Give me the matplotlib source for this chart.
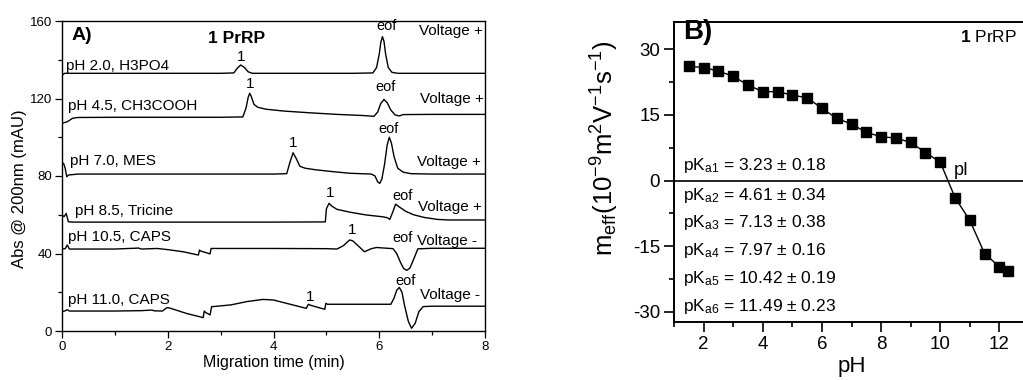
import matplotlib
matplotlib.use("Agg")
import matplotlib.pyplot as plt
from matplotlib.ticker import MultipleLocator

plt.rcParams['font.family'] = ['Liberation Sans', 'DejaVu Sans']
plt.rcParams['mathtext.fontset'] = 'custom'
plt.rcParams['mathtext.rm'] = 'Liberation Sans'
plt.rcParams['mathtext.it'] = 'Liberation Sans'
plt.rcParams['mathtext.bf'] = 'Liberation Sans:bold'
plt.rcParams['axes.unicode_minus'] = False

# ---------------- Panel A: electropherograms (time in min, absorbance in mAU) ----------------
t_ph20 = [0, 0.05, 0.3, 1.0, 2.0, 3.0, 3.25, 3.31, 3.38, 3.45, 3.52, 3.6, 4.5, 5.5,
          5.88, 5.95, 6.0, 6.03, 6.06, 6.09, 6.12, 6.17, 6.24, 6.35, 7.0, 8.0]
a_ph20 = [132, 133, 133, 133, 133, 133, 133.2, 135.5, 137.3, 136, 133.8, 133, 133, 133,
          133.2, 136, 143, 149, 151.9, 149.5, 143, 136, 133.5, 133, 133, 133]

t_ph45 = [0, 0.1, 0.2, 0.3, 1.0, 2.0, 3.0, 3.42, 3.48, 3.52, 3.55, 3.58, 3.63, 3.7,
          3.85, 4.2, 4.7, 5.2, 5.7, 5.9, 5.97, 6.03, 6.09, 6.15, 6.22, 6.3, 6.38, 6.45, 7.0, 8.0]
a_ph45 = [107.2, 108, 109.8, 110.2, 110.3, 110.3, 110.3, 110.5, 115, 120.5, 122.7, 121, 117, 115.5,
          114.5, 113.5, 112.6, 111.8, 111.2, 110.8, 113, 117.5, 119.5, 117.8, 114, 111.5, 111, 111.7, 111.8, 111.8]

t_ph70 = [0, 0.03, 0.06, 0.09, 0.12, 0.3, 1.0, 2.0, 3.0, 4.0, 4.25, 4.31, 4.37, 4.43, 4.5,
          4.6, 4.8, 5.1, 5.45, 5.85, 5.92, 5.97, 6.01, 6.05, 6.1, 6.15, 6.19, 6.23, 6.28,
          6.35, 6.45, 6.6, 7.0, 8.0]
a_ph70 = [86.5, 86.5, 84, 79.6, 80.5, 81, 81, 81, 81, 81, 81.2, 87, 92, 89, 85,
          84, 83.2, 82.3, 81.4, 81, 80, 77, 76.2, 78.5, 86, 96, 100, 97, 90,
          84, 82, 81.2, 81, 81]

t_ph85 = [0, 0.04, 0.08, 0.12, 0.2, 1.0, 2.0, 3.0, 4.0, 4.98, 5.0, 5.05, 5.1, 5.2, 5.45,
          5.75, 6.05, 6.15, 6.2, 6.25, 6.31, 6.38, 6.5, 6.65, 6.85, 7.1, 7.3, 8.0]
a_ph85 = [59.9, 59, 60.7, 56.4, 56.2, 56.2, 56.2, 56.2, 56.2, 56.3, 63, 65.9, 64.5, 62.8, 61.3,
          59.9, 59.0, 58.5, 57.6, 61, 65.5, 64, 61.8, 60, 58.6, 57.6, 57.3, 57.3]

t_ph105 = [0, 0.06, 0.1, 0.14, 0.3, 1.0, 1.45, 1.5, 1.8, 2.0, 2.29, 2.58, 2.6, 2.62, 2.8,
           2.82, 2.85, 3.2, 4.0, 5.0, 5.2, 5.32, 5.44, 5.5, 5.6, 5.72, 5.85, 5.95, 6.1,
           6.26, 6.33, 6.4, 6.46, 6.52, 6.58, 6.65, 6.73, 7.0, 8.0]
a_ph105 = [42.3, 42.5, 44.4, 42.3, 42.3, 42.3, 42.8, 42.3, 42.6, 42, 40.9, 39.2, 41.8, 41.3, 39.8,
           42.6, 42.6, 42.6, 42.6, 42.5, 42.3, 44, 47, 46.5, 44, 40.9, 42.5, 43.1, 42.8,
           42.5, 40, 35.5, 32.3, 31.3, 32.5, 37, 42.4, 42.7, 42.7]

t_ph110 = [0, 0.06, 0.1, 0.14, 0.5, 1.0, 1.5, 1.7, 1.75, 1.9, 1.98, 2.02, 2.35, 2.67, 2.69,
           2.72, 2.8, 2.83, 2.86, 3.2, 3.5, 3.8, 4.0, 4.2, 4.62, 4.66, 4.7, 4.8, 4.97, 4.99,
           5.02, 5.5, 6.0, 6.22, 6.28, 6.33, 6.38, 6.43, 6.48, 6.55, 6.61, 6.68, 6.75, 6.83, 7.0, 8.0]
a_ph110 = [10.0, 10.4, 11.0, 10.3, 10.3, 10.3, 10.5, 10.8, 10.4, 10.3, 12, 12, 9.1, 6.9, 10.3,
           9.5, 8.3, 12.6, 12.6, 13.5, 15.2, 16.3, 16.0, 14.6, 11.7, 13.8, 13.3, 12.5, 11.2, 14.3,
           13.8, 13.8, 13.8, 13.8, 17, 21, 22.5, 20, 13, 5, 1.4, 4, 10, 12.6, 12.8, 12.8]

traces = [(t_ph20, a_ph20), (t_ph45, a_ph45), (t_ph70, a_ph70),
          (t_ph85, a_ph85), (t_ph105, a_ph105), (t_ph110, a_ph110)]

buffer_labels = ["pH 2.0, H3PO4", "pH 4.5, CH3COOH", "pH 7.0, MES",
                 "pH 8.5, Tricine", "pH 10.5, CAPS", "pH 11.0, CAPS"]
buffer_label_pos = [(0.08, 133.3), (0.12, 112.5), (0.15, 84.2),
                    (0.25, 58.5), (0.12, 44.7), (0.12, 12.3)]
peak1_pos = [(3.38, 138.0), (3.55, 123.8), (4.37, 93.2),
             (5.07, 67.4), (5.48, 48.5), (4.69, 14.1)]
eof_pos = [(6.14, 153.8), (6.12, 122.1), (6.17, 100.4),
           (6.44, 66.0), (6.44, 44.2), (6.50, 22.3)]
voltage_labels = ["Voltage +", "Voltage +", "Voltage +", "Voltage +", "Voltage -", "Voltage -"]
voltage_pos = [(6.76, 151.4), (6.78, 115.9), (6.72, 83.8),
               (6.74, 60.5), (6.71, 43.0), (6.78, 14.9)]

# ---------------- Panel B: effective mobility vs pH ----------------
ph_values = [1.5, 2.0, 2.5, 3.0, 3.5, 4.0, 4.5, 5.0, 5.5, 6.0, 6.5, 7.0, 7.5, 8.0,
             8.5, 9.0, 9.5, 10.0, 10.5, 11.0, 11.5, 12.0, 12.3]
mobility = [26.1, 25.8, 25.0, 23.8, 21.8, 20.3, 20.3, 19.5, 18.9, 16.5, 14.2, 12.9, 11.0, 10.0,
            9.7, 8.7, 6.4, 4.2, -3.9, -9.1, -16.7, -19.7, -20.7]

pka_names = ["a1", "a2", "a3", "a4", "a5", "a6"]
pka_values = ["3.23", "4.61", "7.13", "7.97", "10.42", "11.49"]
pka_errors = ["0.18", "0.34", "0.38", "0.16", "0.19", "0.23"]
pka_text_y = [3.4, -3.4, -9.5, -15.9, -22.3, -28.8]

fig = plt.figure(figsize=(10.23, 3.80), dpi=100)

# ---- Panel A ----
axA = fig.add_axes([62 / 1023, 49 / 380, 423 / 1023, 310 / 380])
for t, a in traces:
    axA.plot(t, a, color='black', lw=1.0)
axA.set_xlim(0, 8)
axA.set_ylim(0, 160)
axA.xaxis.set_major_locator(MultipleLocator(2))
axA.xaxis.set_minor_locator(MultipleLocator(1))
axA.yaxis.set_major_locator(MultipleLocator(40))
axA.yaxis.set_minor_locator(MultipleLocator(20))
axA.tick_params(which='major', direction='out', length=5, width=0.9, labelsize=9.5, pad=2)
axA.tick_params(which='minor', direction='out', length=3, width=0.9)
for s in axA.spines.values():
    s.set_linewidth(1.0)
axA.set_xlabel("Migration time (min)", fontsize=11.5, labelpad=2)
axA.set_ylabel("Abs @ 200nm (mAU)", fontsize=12)
axA.yaxis.set_label_coords(-0.083, 0.46)

for lbl, (x, y) in zip(buffer_labels, buffer_label_pos):
    axA.text(x, y, lbl, fontsize=11, ha='left', va='bottom')
for (x, y) in peak1_pos:
    axA.text(x, y, "1", fontsize=11, ha='center', va='bottom')
for (x, y) in eof_pos:
    axA.text(x, y, "eof", fontsize=10.5, ha='center', va='bottom')
for lbl, (x, y) in zip(voltage_labels, voltage_pos):
    axA.text(x, y, lbl, fontsize=11, ha='left', va='bottom')
axA.text(0.18, 148.3, "A)", fontsize=14, fontweight='bold', ha='left', va='bottom')
axA.text(3.3, 147.0, "1 PrRP", fontsize=12.5, fontweight='bold', ha='center', va='bottom')

# ---- Panel B ----
axB = fig.add_axes([674 / 1023, 58 / 380, 355 / 1023, 300 / 380])
axB.axhline(0, color='black', lw=1.2)
axB.plot(ph_values, mobility, color='black', lw=1.0, marker='s', markersize=6.5)
axB.set_xlim(1, 13)
axB.set_ylim(-32.3, 36.2)
axB.xaxis.set_major_locator(MultipleLocator(2))
axB.xaxis.set_minor_locator(MultipleLocator(1))
axB.yaxis.set_major_locator(MultipleLocator(15))
axB.yaxis.set_minor_locator(MultipleLocator(7.5))
axB.tick_params(which='major', direction='out', length=7, width=1.2, labelsize=13.5, pad=3)
axB.tick_params(which='minor', direction='out', length=3.5, width=1.2)
for s in axB.spines.values():
    s.set_linewidth(1.4)
axB.set_xlabel("pH", fontsize=16, labelpad=2)
axB.set_ylabel(r"m$_{\rm eff}$(10$^{-9}$m$^{2}$V$^{-1}$s$^{-1}$)", fontsize=18.5)
axB.yaxis.set_label_coords(-0.15, 0.58)

axB.text(1.3, 31.0, "B)", fontsize=20, fontweight='bold', ha='left', va='bottom')
axB.text(12.6, 31.0, r"$\mathbf{1}$ PrRP", fontsize=12.5, ha='right', va='bottom')
axB.text(10.45, 0.3, "pI", fontsize=13, ha='left', va='bottom')
for name, val, err, y in zip(pka_names, pka_values, pka_errors, pka_text_y):
    axB.text(1.3, y, r"pK$_{\rm %s}$ = %s $\pm$ %s" % (name, val, err),
             fontsize=12.5, ha='left', va='center')

fig.savefig("out.png", dpi=100)
